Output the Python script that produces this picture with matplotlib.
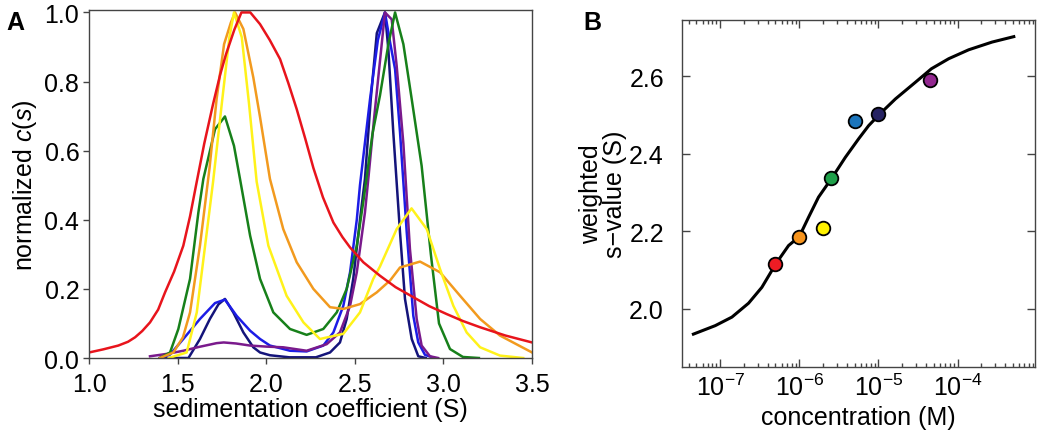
import matplotlib
matplotlib.use('Agg')
import matplotlib.pyplot as plt
from matplotlib.ticker import LogLocator, FixedLocator, NullFormatter

plt.rcParams['font.family'] = ['Liberation Sans', 'DejaVu Sans']
plt.rcParams['mathtext.fontset'] = 'custom'
plt.rcParams['mathtext.rm'] = 'Liberation Sans'
plt.rcParams['mathtext.it'] = 'Liberation Sans:italic'

# ---- panel A: normalized c(s) distributions ----
red_s = [1.0, 1.08, 1.165, 1.22, 1.26, 1.30, 1.344, 1.39, 1.429, 1.48, 1.532, 1.57, 1.604, 1.65, 1.70,
         1.74, 1.773, 1.82, 1.86, 1.91, 1.965, 2.02, 2.078, 2.125, 2.172, 2.22, 2.266, 2.32, 2.379, 2.43,
         2.473, 2.548, 2.642, 2.73, 2.83, 2.92, 3.019, 3.11, 3.207, 3.35, 3.5]
red_c = [0.016, 0.025, 0.036, 0.047, 0.06, 0.078, 0.103, 0.14, 0.19, 0.25, 0.325, 0.41, 0.50, 0.62, 0.735,
         0.82, 0.879, 0.95, 1.0, 1.0, 0.966, 0.92, 0.865, 0.795, 0.72, 0.635, 0.55, 0.465, 0.392, 0.35,
         0.32, 0.277, 0.238, 0.205, 0.176, 0.15, 0.127, 0.107, 0.089, 0.065, 0.045]

orange_s = [1.40, 1.476, 1.53, 1.57, 1.626, 1.68, 1.72, 1.762, 1.80, 1.824, 1.871, 1.927, 1.965, 2.021,
            2.096, 2.172, 2.266, 2.36, 2.435, 2.529, 2.624, 2.70, 2.755, 2.868, 2.981, 3.094, 3.207, 3.319, 3.5]
orange_c = [0.0, 0.016, 0.06, 0.132, 0.325, 0.55, 0.75, 0.908, 0.97, 1.0, 0.952, 0.812, 0.697, 0.518,
            0.373, 0.277, 0.20, 0.147, 0.142, 0.156, 0.19, 0.225, 0.262, 0.279, 0.248, 0.18, 0.113, 0.065, 0.016]

yellow_s = [1.45, 1.551, 1.608, 1.655, 1.70, 1.749, 1.792, 1.818, 1.862, 1.903, 1.946, 2.012, 2.115, 2.21,
            2.303, 2.435, 2.529, 2.604, 2.642, 2.736, 2.82, 2.906, 2.981, 3.056, 3.131, 3.207, 3.319, 3.45]
yellow_c = [0.0, 0.016, 0.132, 0.325, 0.51, 0.735, 0.928, 1.0, 0.928, 0.735, 0.51, 0.325, 0.18, 0.103,
            0.055, 0.07, 0.132, 0.229, 0.265, 0.373, 0.433, 0.373, 0.257, 0.151, 0.074, 0.031, 0.007, 0.0]

green_s = [1.40, 1.457, 1.504, 1.57, 1.617, 1.645, 1.711, 1.767, 1.818, 1.852, 1.909, 1.965, 2.04, 2.134,
           2.228, 2.322, 2.398, 2.454, 2.511, 2.55, 2.60, 2.642, 2.69, 2.727, 2.774, 2.821, 2.877, 2.929,
           2.975, 3.037, 3.11, 3.2]
green_c = [0.0, 0.016, 0.084, 0.229, 0.421, 0.518, 0.662, 0.699, 0.614, 0.518, 0.354, 0.229, 0.132, 0.084,
           0.067, 0.084, 0.132, 0.20, 0.325, 0.46, 0.65, 0.76, 0.91, 1.0, 0.908, 0.749, 0.556, 0.30,
           0.10, 0.026, 0.003, 0.0]

blue_s = [1.40, 1.457, 1.532, 1.626, 1.711, 1.767, 1.833, 1.909, 1.965, 2.021, 2.134, 2.228, 2.322, 2.379,
          2.435, 2.473, 2.511, 2.529, 2.586, 2.63, 2.67, 2.699, 2.727, 2.755, 2.793, 2.83, 2.858, 2.896, 2.95]
blue_c = [0.0, 0.01, 0.055, 0.113, 0.159, 0.169, 0.122, 0.079, 0.055, 0.036, 0.021, 0.019, 0.036, 0.074,
          0.151, 0.248, 0.40, 0.50, 0.75, 0.92, 1.0, 0.913, 0.836, 0.653, 0.363, 0.122, 0.045, 0.009, 0.0]

navy_s = [1.40, 1.561, 1.626, 1.682, 1.73, 1.767, 1.814, 1.871, 1.927, 1.965, 2.021, 2.13, 2.28, 2.36,
          2.416, 2.454, 2.491, 2.529, 2.557, 2.59, 2.624, 2.67, 2.689, 2.717, 2.755, 2.783, 2.821, 2.858, 2.9]
navy_c = [0.0, 0.0, 0.055, 0.113, 0.155, 0.171, 0.132, 0.074, 0.031, 0.016, 0.008, 0.002, 0.002, 0.016,
          0.045, 0.113, 0.229, 0.40, 0.518, 0.75, 0.94, 1.0, 0.894, 0.653, 0.363, 0.171, 0.055, 0.005, 0.0]

purple_s = [1.344, 1.44, 1.532, 1.62, 1.72, 1.76, 1.83, 1.909, 2.0, 2.096, 2.228, 2.341, 2.416, 2.473,
            2.511, 2.557, 2.576, 2.61, 2.642, 2.67, 2.708, 2.736, 2.774, 2.811, 2.849, 2.877, 2.924, 2.97]
purple_c = [0.005, 0.012, 0.021, 0.032, 0.043, 0.045, 0.042, 0.036, 0.033, 0.031, 0.021, 0.040, 0.074, 0.151,
            0.248, 0.421, 0.518, 0.70, 0.86, 1.0, 0.98, 0.846, 0.62, 0.315, 0.113, 0.036, 0.005, 0.0]

# draw order (bottom to top)
curves_A = [
    (navy_s, navy_c, '#14147a'),
    (blue_s, blue_c, '#1c1ce6'),
    (purple_s, purple_c, '#7a1a8c'),
    (green_s, green_c, '#17801a'),
    (orange_s, orange_c, '#f29a1e'),
    (yellow_s, yellow_c, '#fff21a'),
    (red_s, red_c, '#e8141c'),
]

# ---- panel B: weighted s-value vs concentration ----
conc = [5e-7, 1e-6, 2e-6, 2.5e-6, 5e-6, 1e-5, 4.5e-5]
s_w = [2.115, 2.186, 2.209, 2.338, 2.484, 2.503, 2.591]
point_colors = ['#ee1c24', '#f7941d', '#fff200', '#1fa04a', '#1b75bc', '#262262', '#92278f']

# fitted isotherm
fit_conc = [4.6e-8, 8.7e-8, 1.41e-7, 2.29e-7, 3.37e-7, 5.07e-7, 7.33e-7, 1e-6, 1.31e-6, 1.75e-6,
            2.59e-6, 3.82e-6, 5.63e-6, 7.53e-6, 1.04e-5, 1.64e-5, 2.93e-5, 4.67e-5, 7.73e-5,
            1.38e-4, 2.73e-4, 5.13e-4]
fit_s = [1.934, 1.956, 1.978, 2.014, 2.055, 2.116, 2.163, 2.186, 2.236, 2.288,
         2.338, 2.391, 2.439, 2.473, 2.503, 2.542, 2.585, 2.620, 2.646,
         2.669, 2.689, 2.703]

fig = plt.figure(figsize=(10.5, 4.35), dpi=100)
spine_col = '#444444'
fs = 18

axA = fig.add_axes([0.0848, 0.1747, 0.4219, 0.8])
for s_vals, c_vals, col in curves_A:
    axA.plot(s_vals, c_vals, color=col, lw=1.8)
axA.set_xlim(1.0, 3.5)
axA.set_ylim(0, 1.007)
axA.set_xticks([1.0, 1.5, 2.0, 2.5, 3.0, 3.5])
axA.set_yticks([0.0, 0.2, 0.4, 0.6, 0.8, 1.0])
axA.tick_params(direction='out', length=4, width=1, colors=spine_col, labelcolor='black',
                labelsize=fs)
axA.tick_params(axis='x', pad=6)
axA.tick_params(axis='y', pad=3)
for sp in axA.spines.values():
    sp.set_color(spine_col)
    sp.set_linewidth(1.0)
axA.set_xlabel('sedimentation coefficient (S)', fontsize=fs, labelpad=1)
axA.set_ylabel('normalized $c$($s$)', fontsize=fs, labelpad=4)
fig.text(0.006, 0.975, 'A', fontsize=18, fontweight='bold', va='top', ha='left')

axB = fig.add_axes([0.6495, 0.154, 0.3362, 0.7977])
axB.semilogx(fit_conc, fit_s, color='black', lw=2.2, zorder=2)
for x, y, col in zip(conc, s_w, point_colors):
    axB.plot(x, y, 'o', ms=9.8, mfc=col, mec='black', mew=1.3, zorder=3)
axB.set_xlim(3.3e-8, 9.5e-4)
axB.set_ylim(1.849, 2.746)
axB.xaxis.set_major_locator(FixedLocator([1e-7, 1e-6, 1e-5, 1e-4]))
axB.xaxis.set_minor_locator(LogLocator(base=10, subs=range(2, 10), numticks=20))
axB.xaxis.set_minor_formatter(NullFormatter())
axB.set_yticks([2.0, 2.2, 2.4, 2.6])
axB.tick_params(which='both', direction='in', top=True, right=True, colors=spine_col,
                labelcolor='black', labelsize=fs, width=1)
axB.tick_params(which='major', length=6)
axB.tick_params(which='minor', length=3)
axB.tick_params(axis='x', which='major', pad=5)
axB.tick_params(axis='y', which='major', pad=13)
for sp in axB.spines.values():
    sp.set_color(spine_col)
    sp.set_linewidth(1.0)
axB.set_xlabel('concentration (M)', fontsize=fs, labelpad=3)
axB.set_ylabel('weighted\ns\u2212value (S)', fontsize=fs, linespacing=1.0)
axB.yaxis.set_label_coords(-0.156, 0.5)
fig.text(0.556, 0.975, 'B', fontsize=18, fontweight='bold', va='top', ha='left')

fig.savefig('out.png', dpi=100)
